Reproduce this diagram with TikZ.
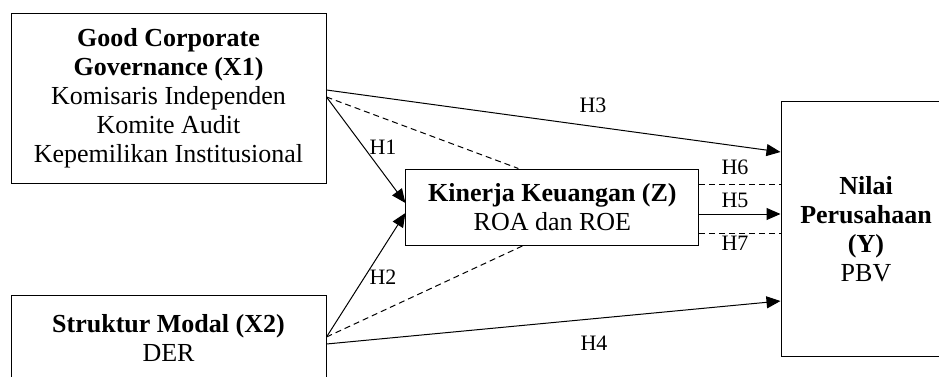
\documentclass[tikz,border=0pt]{standalone}
\usepackage{fontspec}
\setmainfont{Liberation Serif}
\usetikzlibrary{calc,arrows.meta}
\tikzset{
  fw frame/.style={
    x=0.5pt,
    y=-0.5pt,
    line width=0.5pt,
    line cap=butt,
    line join=miter
  },
  fw box/.style={
    draw,
    align=center,
    font=\fontsize{13}{14.5}\selectfont,
    inner sep=0pt
  },
  fw label/.style={
    font=\fontsize{11}{12}\selectfont,
    inner sep=1pt
  },
  fw arrow/.style={
    -{Triangle[length=7pt,width=6pt]}
  },
  fw link/.style={
    dashed,
    dash pattern=on 3pt off 2pt
  }
}

\begin{document}
\begin{tikzpicture}[fw frame]
  \useasboundingbox (0,0) rectangle (939,376);
  % boxes
  \node[fw box, minimum width=157.5pt, minimum height=85pt] (x1) at (168.5,98)
    {\textbf{Good Corporate}\\\textbf{Governance (X1)}\\Komisaris Independen\\Komite Audit\\Kepemilikan Institusional};
  \node[fw box, minimum width=157.5pt, minimum height=43pt] (x2) at (168.5,338)
    {\textbf{Struktur Modal (X2)}\\DER};
  \node[fw box, minimum width=146.5pt, minimum height=38pt] (z) at (552.4,207)
    {\textbf{Kinerja Keuangan (Z)}\\ROA dan ROE};
  \node[fw box, minimum width=85pt, minimum height=127.5pt] (y) at (866,229)
    {\textbf{Nilai}\\\textbf{Perusahaan}\\\textbf{(Y)}\\PBV};
  % direct paths
  \draw[fw arrow] ($(x1.east)+(0,-8)$) -- ($(y.west)+(0,-77)$);
  \draw[fw arrow] ($(x1.east)+(0,-1)$) -- ($(z.west)+(0,-4)$);
  \draw[fw arrow] ($(x2.east)+(0,-1)$) -- ($(z.west)+(0,6)$);
  \draw[fw arrow] ($(x2.east)+(0,6)$) -- ($(y.west)+(0,72)$);
  \draw[fw arrow] ($(z.east)+(0,7)$) -- ($(y.west)+(0,-15)$);
  % mediated paths
  \draw[fw link] ($(x1.east)+(0,-1)$) -- ($(z.north)+(-34,0)$);
  \draw[fw link] ($(x2.east)+(0,-1)$) -- ($(z.south)+(-29,0)$);
  \coordinate (h6a) at ($(z.east)+(0,-23)$);
  \coordinate (h7a) at ($(z.east)+(0,26)$);
  \draw[fw link] (h6a) -- (h6a -| y.west);
  \draw[fw link] (h7a) -- (h7a -| y.west);
  % labels
  \node[fw label] (h1) at (383,147) {H1};
  \node[fw label] (h2) at (383,277) {H2};
  \node[fw label] (h3) at (593,105) {H3};
  \node[fw label] (h4) at (594,343) {H4};
  \node[fw label] (h5) at (735,200) {H5};
  \node[fw label] (h6) at (735,167) {H6};
  \node[fw label] (h7) at (735,243) {H7};
\end{tikzpicture}
\end{document}
